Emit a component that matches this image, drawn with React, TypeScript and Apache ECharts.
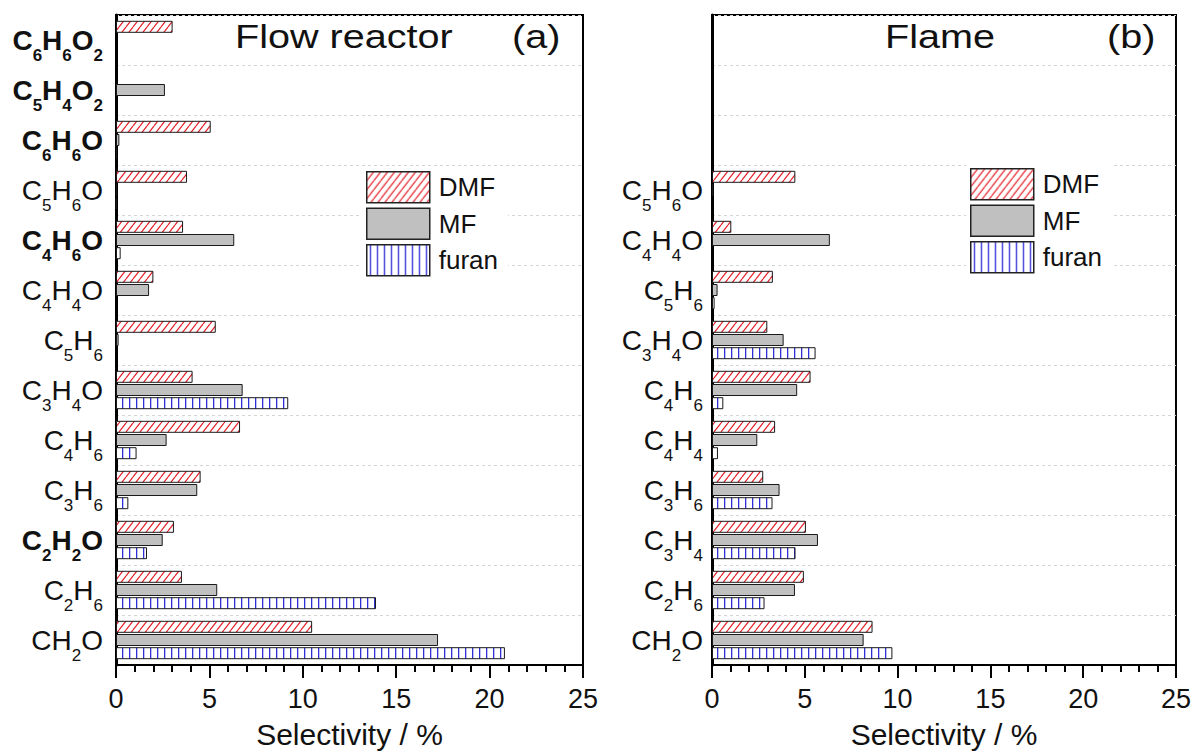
import React, { useEffect, useRef } from 'react';
import * as echarts from 'echarts';

const FONT = '"Liberation Sans", Arial, Helvetica, sans-serif';

// Panel (a): flow reactor — categories listed bottom to top
const categoriesA = ['CH2O', 'C2H6', 'C2H2O', 'C3H6', 'C4H6', 'C3H4O', 'C5H6', 'C4H4O', 'C4H6O', 'C5H6O', 'C6H6O', 'C5H4O2', 'C6H6O2'];
const dmfA = [10.5, 3.53, 3.1, 4.53, 6.64, 4.1, 5.34, 2.0, 3.59, 3.8, 5.07, null, 3.03];
const mfA = [17.24, 5.42, 2.5, 4.35, 2.71, 6.78, 0.14, 1.77, 6.33, 0.06, 0.18, 2.62, null];
const furanA = [20.82, 13.92, 1.66, 0.66, 1.1, 9.22, null, null, 0.25, 0.03, 0.05, null, null];

// Panel (b): flame — same 13 slots, top three empty
const categoriesB = ['CH2O', 'C2H6', 'C3H4', 'C3H6', 'C4H4', 'C4H6', 'C3H4O', 'C5H6', 'C4H4O', 'C5H6O', ' ', '  ', '   '];
const dmfB = [8.65, 4.95, 5.06, 2.76, 3.4, 5.31, 2.98, 3.28, 1.04, 4.49];
const mfB = [8.17, 4.47, 5.71, 3.64, 2.44, 4.59, 3.86, 0.3, 6.35, 0.08];
const furanB = [9.72, 2.83, 4.5, 3.26, 0.32, 0.61, 5.58, 0.14, null, null];

const seriesNames = ['DMF', 'MF', 'furan'];
const xTicks = { min: 0, max: 25, interval: 5 };
const boldLabels = ['C2H2O', 'C4H6O', 'C6H6O', 'C5H4O2', 'C6H6O2'];

function makeHatch(): HTMLCanvasElement {
  const w = 7, h = 9;
  const c = document.createElement('canvas');
  c.width = w; c.height = h;
  const ctx = c.getContext('2d')!;
  ctx.fillStyle = '#ffffff';
  ctx.fillRect(0, 0, w, h);
  ctx.strokeStyle = '#e41e28';
  ctx.lineWidth = 1.2;
  ctx.beginPath();
  for (const dx of [-w, 0, w]) {
    ctx.moveTo(dx, h);
    ctx.lineTo(dx + w, 0);
  }
  ctx.stroke();
  return c;
}

function makeVert(): HTMLCanvasElement {
  const w = 7, h = 4;
  const c = document.createElement('canvas');
  c.width = w; c.height = h;
  const ctx = c.getContext('2d')!;
  ctx.fillStyle = '#ffffff';
  ctx.fillRect(0, 0, w, h);
  ctx.fillStyle = '#2f2fd6';
  ctx.fillRect(3, 0, 1.3, h);
  return c;
}

function formula(name: string): string {
  if (name.trim() === '') return '';
  const bold = boldLabels.indexOf(name) >= 0;
  const m = bold ? 'b' : 'n';
  const s = bold ? 'bs' : 'ns';
  return name.replace(/(\d+)|([^\d]+)/g, (_all, d, t) => (d ? `{${s}|${d}}` : `{${m}|${t}}`));
}

const rich = {
  n: { fontSize: 28, fontFamily: FONT, color: '#111' },
  ns: { fontSize: 17, fontFamily: FONT, color: '#111', padding: [31, 0, 0, 0] },
  b: { fontSize: 28, fontFamily: FONT, color: '#111', fontWeight: 'bold' },
  bs: { fontSize: 17, fontFamily: FONT, color: '#111', fontWeight: 'bold', padding: [31, 0, 0, 0] },
};

export default function App() {
  const ref = useRef<HTMLDivElement>(null);

  useEffect(() => {
    if (!ref.current) return;
    const chart = echarts.init(ref.current, undefined, { renderer: 'svg' });
    const hatch = { image: makeHatch(), repeat: 'repeat' };
    const vert = { image: makeVert(), repeat: 'repeat' };
    const fills: any[] = [hatch, '#c0c0c0', vert];
    const dataA = [dmfA, mfA, furanA];
    const dataB = [dmfB, mfB, furanB];

    const grids = [
      { left: 116, top: 15, width: 467, height: 650 },
      { left: 712, top: 15, width: 464, height: 650 },
    ];

    const xAxis = grids.map((_, i) => ({
      type: 'value',
      gridIndex: i,
      min: xTicks.min,
      max: xTicks.max,
      interval: xTicks.interval,
      name: 'Selectivity / %',
      nameLocation: 'middle',
      nameGap: 54,
      nameTextStyle: { fontSize: 30, fontFamily: FONT, color: '#111' },
      axisLine: { show: true, lineStyle: { color: '#000', width: 2 } },
      axisTick: { show: true, length: 13, lineStyle: { color: '#000', width: 2 } },
      minorTick: { show: true, splitNumber: 5, length: 7, lineStyle: { color: '#000', width: 2 } },
      axisLabel: { fontSize: 27, fontFamily: FONT, color: '#111', margin: 20 },
      splitLine: { show: false },
    }));

    const yAxis = [categoriesA, categoriesB].map((cats, i) => ({
      type: 'category',
      gridIndex: i,
      data: cats,
      axisLine: { show: true, lineStyle: { color: '#000', width: 3 } },
      axisTick: { show: false },
      axisLabel: {
        margin: i === 0 ? 13 : 9,
        formatter: (v: string) => formula(v),
        rich,
        interval: 0,
      },
      splitLine: { show: true, lineStyle: { color: '#d4d4d4', width: 1, type: [3, 3] } },
    }));

    const series: any[] = [];
    [dataA, dataB].forEach((set, gi) => {
      set.forEach((vals, si) => {
        series.push({
          type: 'bar',
          name: seriesNames[si],
          xAxisIndex: gi,
          yAxisIndex: gi,
          data: vals,
          barWidth: 12,
          barGap: '10%',
          itemStyle: { color: fills[si], borderColor: '#1a1a1a', borderWidth: 1 },
        });
      });
    });

    const legendBase = {
      data: seriesNames,
      orient: 'vertical',
      itemWidth: 63,
      itemHeight: 31,
      itemGap: 4,
      icon: 'rect',
      backgroundColor: '#ffffff',
      padding: [3, 10, 3, 4],
      selectedMode: false,
      textStyle: { fontSize: 26, fontFamily: FONT, color: '#111', padding: [0, 0, 0, 4] },
      itemStyle: { borderColor: '#222', borderWidth: 1.5 },
    };

    const titleStyle = (text: string) => ({ text, fontSize: 33, fontFamily: FONT, fill: '#111', verticalAlign: 'middle' });

    chart.setOption({
      animation: false,
      backgroundColor: '#ffffff',
      grid: grids.map((g) => ({ ...g, show: true, borderColor: '#000', borderWidth: 2, backgroundColor: 'transparent' })),
      xAxis,
      yAxis,
      series,
      legend: [
        { ...legendBase, left: 362, top: 168 },
        { ...legendBase, left: 966, top: 165 },
      ],
      graphic: [
        { type: 'text', x: 235, y: 37, scaleX: 1.2, style: titleStyle('Flow reactor') },
        { type: 'text', x: 512, y: 37, scaleX: 1.2, style: titleStyle('(a)') },
        { type: 'text', x: 885, y: 37, scaleX: 1.2, style: titleStyle('Flame') },
        { type: 'text', x: 1107, y: 37, scaleX: 1.2, style: titleStyle('(b)') },
      ],
    });

    return () => chart.dispose();
  }, []);

  return (
    <div
      ref={ref}
      style={{ position: 'absolute', left: 0, top: 0, width: 1194, height: 754, background: '#fff' }}
    />
  );
}
